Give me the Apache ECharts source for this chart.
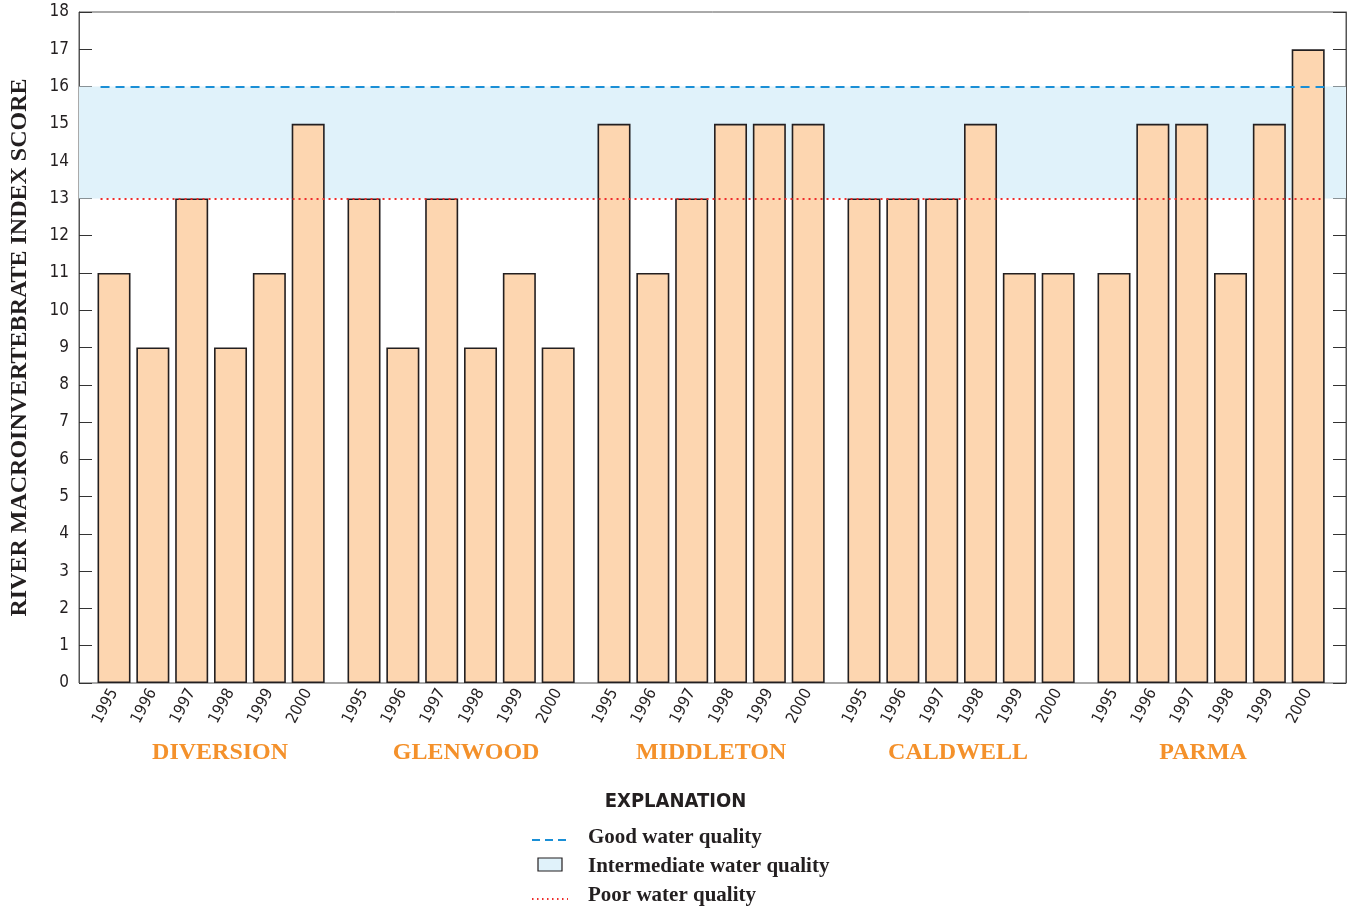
<!DOCTYPE html>
<html>
<head>
<meta charset="utf-8">
<script src="https://cdn.jsdelivr.net/npm/echarts@6/dist/echarts.min.js"></script>
<style>
  html, body { margin: 0; padding: 0; background: #fff; }
  #chart { width: 1351px; height: 907px; }
</style>
</head>
<body>
<div id="chart"></div>
<script>
var years = ['1995', '1996', '1997', '1998', '1999', '2000'];
var sites = ['DIVERSION', 'GLENWOOD', 'MIDDLETON', 'CALDWELL', 'PARMA'];
var diversion = [11, 9, 13, 9, 11, 15];
var glenwood = [13, 9, 13, 9, 11, 9];
var middleton = [15, 11, 13, 15, 15, 15];
var caldwell = [13, 13, 13, 15, 11, 11];
var parma = [11, 15, 15, 11, 15, 17];
var goodLevel = 16;
var poorLevel = 13;
var yMax = 18;

var scores = [diversion, glenwood, middleton, caldwell, parma];

var sansFont = "'DejaVu Sans Condensed', 'Liberation Sans', sans-serif";
var serifFont = "'Liberation Serif', 'DejaVu Serif', serif";
var orange = '#f4912b';

var myChart = echarts.init(document.getElementById('chart'));

// frame grid (index 0) plus one grid per site
var grids = [{ left: 78, right: 5, top: 12, bottom: 224, show: true, borderColor: '#555', borderWidth: 1 }];
var xAxes = [{ type: 'value', gridIndex: 0, min: 0, max: 1, show: false }];
var yAxes = [{
    type: 'value', gridIndex: 0, min: 0, max: yMax, interval: 1,
    name: 'RIVER MACROINVERTEBRATE INDEX SCORE',
    nameLocation: 'middle', nameGap: 47, nameRotate: 90,
    nameTextStyle: { fontFamily: serifFont, fontWeight: 'bold', fontSize: 24, color: '#231f20' },
    axisLine: { show: true, lineStyle: { color: '#555' } },
    axisTick: { show: true, inside: true, length: 13, lineStyle: { color: '#333' } },
    axisLabel: { fontFamily: sansFont, fontSize: 17, color: '#231f20', margin: 10 },
    splitLine: { show: false }
}, {
    type: 'value', gridIndex: 0, min: 0, max: yMax, interval: 1, position: 'right',
    axisLine: { show: true, lineStyle: { color: '#555' } },
    axisTick: { show: true, inside: true, length: 13, lineStyle: { color: '#333' } },
    axisLabel: { show: false },
    splitLine: { show: false }
}];

var series = [{
    type: 'line', xAxisIndex: 0, yAxisIndex: 0, data: [[0, 0]], z: 1, silent: true,
    symbol: 'none', lineStyle: { opacity: 0 },
    markArea: {
        silent: true,
        itemStyle: { color: '#e0f2fa' },
        data: [[{ yAxis: poorLevel }, { yAxis: goodLevel }]]
    }
}, {
    type: 'line', xAxisIndex: 0, yAxisIndex: 0, data: [[0, 0]], z: 10, silent: true,
    symbol: 'none', lineStyle: { opacity: 0 },
    markLine: {
        silent: true, symbol: 'none', label: { show: false },
        data: [
            [{ coord: [0.017, goodLevel], lineStyle: { color: '#1a8fd6', type: [9, 6], width: 2 } }, { coord: [0.983, goodLevel] }],
            [{ coord: [0.017, poorLevel], lineStyle: { color: '#ee2b2b', type: [2, 4], width: 2 } }, { coord: [0.983, poorLevel] }]
        ]
    }
}];

// site names sit a little off their group centres in the original
var nameShift = [18, 10, 0, -6, -16];

sites.forEach(function (site, i) {
    var gi = i + 1;
    grids.push({ left: 94.6 + 250 * i, width: 233, top: 12, bottom: 224 });
    xAxes.push({
        type: 'category', gridIndex: gi, data: years,
        name: site, nameLocation: 'middle', nameGap: 58,
        nameTextStyle: {
            fontFamily: serifFont, fontWeight: 'bold', fontSize: 24, color: orange,
            padding: nameShift[i] > 0 ? [0, 0, 0, nameShift[i]] : [0, -nameShift[i], 0, 0]
        },
        axisLine: { show: false }, axisTick: { show: false },
        axisLabel: { rotate: 62, fontFamily: sansFont, fontSize: 16, color: '#231f20', margin: 7 }
    });
    yAxes.push({ type: 'value', gridIndex: gi, min: 0, max: yMax, show: false });
    series.push({
        type: 'bar', xAxisIndex: gi, yAxisIndex: gi + 1, data: scores[i], z: 3,
        barWidth: 33,
        itemStyle: { color: '#fdd6b0', borderColor: '#231f20', borderWidth: 1.6 }
    });
});

var option = {
    animation: false,
    grid: grids,
    xAxis: xAxes,
    yAxis: yAxes,
    series: series,
    graphic: [
        { type: 'text', left: 'center', top: 792, style: { text: 'EXPLANATION', font: "bold 20px " + sansFont, fill: '#231f20' } },
        { type: 'line', shape: { x1: 532, y1: 840, x2: 568, y2: 840 }, style: { stroke: '#1a8fd6', lineWidth: 2, lineDash: [8, 5] } },
        { type: 'rect', shape: { x: 538, y: 858, width: 24, height: 13 }, style: { fill: '#e0f2fa', stroke: '#231f20', lineWidth: 1.2 } },
        { type: 'line', shape: { x1: 532, y1: 899, x2: 568, y2: 899 }, style: { stroke: '#ee2b2b', lineWidth: 2, lineDash: [1.5, 3.5] } },
        { type: 'text', left: 588, top: 827, style: { text: 'Good water quality', font: "bold 21px " + serifFont, fill: '#231f20' } },
        { type: 'text', left: 588, top: 856, style: { text: 'Intermediate water quality', font: "bold 21px " + serifFont, fill: '#231f20' } },
        { type: 'text', left: 588, top: 885, style: { text: 'Poor water quality', font: "bold 21px " + serifFont, fill: '#231f20' } }
    ]
};
myChart.setOption(option);
</script>
</body>
</html>
